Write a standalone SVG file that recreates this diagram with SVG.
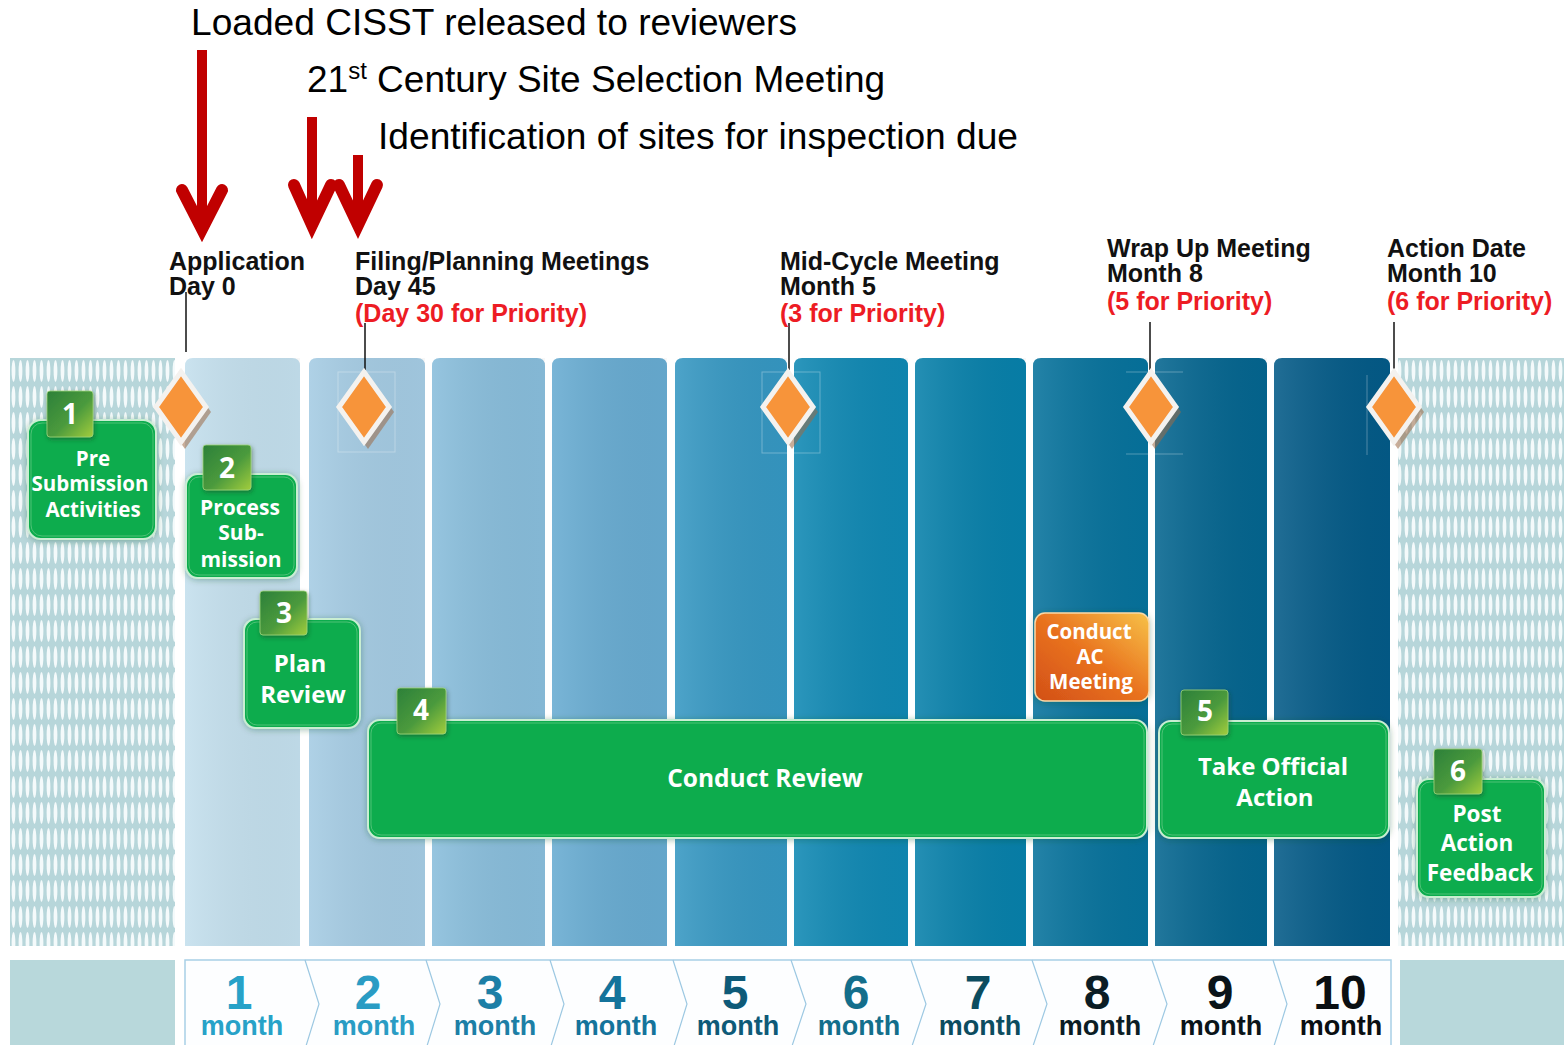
<svg xmlns="http://www.w3.org/2000/svg" width="1564" height="1045" viewBox="0 0 1564 1045">
<defs>
  <style>
    .top { font-family: "Liberation Sans", Arial, sans-serif; font-size: 37px; fill: #000; }
    .lbl { font-family: "Liberation Sans", Arial, sans-serif; font-size: 25px; font-weight: bold; fill: #111; }
    .red { fill: #ed1c24; }
    .gtxt { font-family: "Open Sans", "Noto Sans", sans-serif; font-weight: bold; fill: #fff; text-anchor: middle; }
    .tabn { font-family: "Open Sans", "Noto Sans", sans-serif; font-weight: bold; fill: #fff; text-anchor: middle; font-size: 28px; }
    .gbox { fill: #07ac4d; stroke: #c9eed2; stroke-width: 2; }
    .ginner { fill: none; stroke: #4fc277; stroke-width: 1; }
    .tab { fill: url(#tabGrad); stroke: #9fd47a; stroke-width: 0.8; }
    .lead { stroke: #111; stroke-width: 1.5; fill: none; }
    .arrow { stroke: #c00000; fill: none; }
    .dia { fill: #f7943a; stroke: #f4f2ef; stroke-width: 5; stroke-linejoin: miter; }
    .diash { fill: #9c6a45; opacity: 0.55; }
    .ghost { fill: none; stroke: #ffffff; stroke-opacity: 0.3; stroke-width: 1; }
    .mnum { font-family: "Liberation Sans", Arial, sans-serif; font-weight: bold; font-size: 48px; text-anchor: middle; }
    .mtxt { font-family: "Liberation Sans", Arial, sans-serif; font-weight: bold; font-size: 27px; text-anchor: middle; }
    .chev { stroke: #9cc8e2; stroke-width: 1.2; fill: none; }
  </style>
  <pattern id="hatch" x="10" y="358" width="7" height="26" patternUnits="userSpaceOnUse">
    <rect width="7" height="26" fill="#b7d6da"/>
    <ellipse cx="3.5" cy="13" rx="1.9" ry="11" fill="#f4fafb"/>
  </pattern>
  <linearGradient id="shade" x1="0" y1="0" x2="1" y2="0">
    <stop offset="0" stop-color="#ffffff" stop-opacity="0.12"/>
    <stop offset="1" stop-color="#000000" stop-opacity="0.03"/>
  </linearGradient>
  <linearGradient id="tabGrad" x1="0" y1="0" x2="1" y2="1">
    <stop offset="0" stop-color="#2c8039"/>
    <stop offset="0.55" stop-color="#4b9a3c"/>
    <stop offset="1" stop-color="#a2cd3e"/>
  </linearGradient>
  <linearGradient id="acGrad" x1="0" y1="1" x2="1" y2="0">
    <stop offset="0" stop-color="#d24f17"/>
    <stop offset="0.5" stop-color="#e9731f"/>
    <stop offset="1" stop-color="#f7c248"/>
  </linearGradient>
  <filter id="glow" x="-20%" y="-20%" width="140%" height="140%">
    <feDropShadow dx="0" dy="1" stdDeviation="3" flood-color="#0a4f28" flood-opacity="0.35"/>
  </filter>
  <filter id="tabsh" x="-30%" y="-30%" width="160%" height="160%">
    <feDropShadow dx="1" dy="2" stdDeviation="2" flood-color="#1d3d22" flood-opacity="0.5"/>
  </filter>
</defs>

<rect width="1564" height="1045" fill="#ffffff"/>

<g id="timeline-background">
  <rect x="10" y="358" width="165" height="588" fill="url(#hatch)"/>
  <rect x="1398" y="358" width="166" height="588" fill="url(#hatch)"/>
  <path d="M185,946 V366 Q185,358 193,358 H292 Q300,358 300,366 V946 Z" fill="#c3dfed"/>
  <path d="M309,946 V366 Q309,358 317,358 H417 Q425,358 425,366 V946 Z" fill="#a4cbe3"/>
  <path d="M432,946 V366 Q432,358 440,358 H537 Q545,358 545,366 V946 Z" fill="#88bddb"/>
  <path d="M552,946 V366 Q552,358 560,358 H659 Q667,358 667,366 V946 Z" fill="#67abd1"/>
  <path d="M675,946 V366 Q675,358 683,358 H779 Q787,358 787,366 V946 Z" fill="#3597c2"/>
  <path d="M794,946 V366 Q794,358 802,358 H900 Q908,358 908,366 V946 Z" fill="#0f88b3"/>
  <path d="M915,946 V366 Q915,358 923,358 H1018 Q1026,358 1026,366 V946 Z" fill="#0780aa"/>
  <path d="M1033,946 V366 Q1033,358 1041,358 H1140 Q1148,358 1148,366 V946 Z" fill="#06729c"/>
  <path d="M1155,946 V366 Q1155,358 1163,358 H1259 Q1267,358 1267,366 V946 Z" fill="#04658f"/>
  <path d="M1274,946 V366 Q1274,358 1282,358 H1382 Q1390,358 1390,366 V946 Z" fill="#035a87"/>
  <g fill="url(#shade)">
    <rect x="185" y="358" width="115" height="588"/>
    <rect x="309" y="358" width="116" height="588"/>
    <rect x="432" y="358" width="113" height="588"/>
    <rect x="552" y="358" width="115" height="588"/>
    <rect x="675" y="358" width="112" height="588"/>
    <rect x="794" y="358" width="114" height="588"/>
    <rect x="915" y="358" width="111" height="588"/>
    <rect x="1033" y="358" width="115" height="588"/>
    <rect x="1155" y="358" width="112" height="588"/>
    <rect x="1274" y="358" width="116" height="588"/>
  </g>
</g>

<g id="month-bar">
  <rect x="10" y="960" width="165" height="90" fill="#b8d8db"/>
  <rect x="1400" y="960" width="164" height="90" fill="#b8d8db"/>
  <rect x="185" y="960" width="1206" height="90" fill="#fdfeff" stroke="#a8cfe6" stroke-width="1.5"/>
  <path class="chev" d="M305,960 L319,1004 L306,1046"/>
  <path class="chev" d="M426,960 L440,1004 L427,1046"/>
  <path class="chev" d="M550,960 L564,1004 L551,1046"/>
  <path class="chev" d="M673,960 L687,1004 L674,1046"/>
  <path class="chev" d="M791,960 L806,1004 L792,1046"/>
  <path class="chev" d="M911,960 L926,1004 L912,1046"/>
  <path class="chev" d="M1032,960 L1047,1004 L1033,1046"/>
  <path class="chev" d="M1152,960 L1167,1004 L1153,1046"/>
  <path class="chev" d="M1273,960 L1287,1004 L1274,1046"/>
  <text class="mnum" x="239" y="1009" fill="#27a2c8">1</text>
  <text class="mtxt" x="242" y="1035" fill="#27a2c8">month</text>
  <text class="mnum" x="368" y="1009" fill="#2a9cc4">2</text>
  <text class="mtxt" x="374" y="1035" fill="#2a9cc4">month</text>
  <text class="mnum" x="490" y="1009" fill="#1c7fa6">3</text>
  <text class="mtxt" x="495" y="1035" fill="#1c7fa6">month</text>
  <text class="mnum" x="612" y="1009" fill="#14739b">4</text>
  <text class="mtxt" x="616" y="1035" fill="#14739b">month</text>
  <text class="mnum" x="735" y="1009" fill="#0e5a78">5</text>
  <text class="mtxt" x="738" y="1035" fill="#0e5a78">month</text>
  <text class="mnum" x="856" y="1009" fill="#136e8b">6</text>
  <text class="mtxt" x="859" y="1035" fill="#136e8b">month</text>
  <text class="mnum" x="978" y="1009" fill="#0c4c5f">7</text>
  <text class="mtxt" x="980" y="1035" fill="#0c4c5f">month</text>
  <text class="mnum" x="1097" y="1009" fill="#0b1d25">8</text>
  <text class="mtxt" x="1100" y="1035" fill="#0b1d25">month</text>
  <text class="mnum" x="1220" y="1009" fill="#0a1419">9</text>
  <text class="mtxt" x="1221" y="1035" fill="#0a1419">month</text>
  <text class="mnum" x="1340" y="1009" fill="#0a0f12">10</text>
  <text class="mtxt" x="1341" y="1035" fill="#0a0f12">month</text>
</g>

<g id="connectors">
  <line class="lead" x1="186" y1="292" x2="186" y2="352"/>
  <line class="lead" x1="365" y1="323" x2="365" y2="370"/>
  <line class="lead" x1="789" y1="323" x2="789" y2="370"/>
  <line class="lead" x1="1150" y1="322" x2="1150" y2="370"/>
  <line class="lead" x1="1394" y1="322" x2="1394" y2="370"/>
  <g id="red-arrows">
    <line class="arrow" x1="202" y1="50" x2="202" y2="222" stroke-width="10"/>
    <polyline class="arrow" points="182,190 202,229 222,190" stroke-width="12" stroke-linecap="round" stroke-linejoin="miter"/>
    <line class="arrow" x1="312" y1="117" x2="312" y2="218" stroke-width="10"/>
    <polyline class="arrow" points="294,185 312,225 331,185" stroke-width="12" stroke-linecap="round" stroke-linejoin="miter"/>
    <line class="arrow" x1="358" y1="155" x2="358" y2="218" stroke-width="10"/>
    <polyline class="arrow" points="339,185 358,225 377,185" stroke-width="12" stroke-linecap="round" stroke-linejoin="miter"/>
  </g>
</g>

<g id="annotations">
  <text class="top" x="191" y="35" textLength="606" lengthAdjust="spacingAndGlyphs">Loaded CISST released to reviewers</text>
  <text class="top" x="307" y="92">21<tspan font-size="24" dy="-13">st</tspan><tspan dy="13"> Century Site Selection Meeting</tspan></text>
  <text class="top" x="378" y="149" textLength="640" lengthAdjust="spacingAndGlyphs">Identification of sites for inspection due</text>
</g>

<g id="milestone-application">
  <text class="lbl" x="169" y="270">Application</text>
  <text class="lbl" x="169" y="295">Day 0</text>
  <polygon class="diash" points="185,375 211,412 185,449 159,412"/>
  <polygon class="dia" points="181,372 206,407 181,442 156,407"/>
</g>
<g id="milestone-filing">
  <text class="lbl" x="355" y="270">Filing/Planning Meetings</text>
  <text class="lbl" x="355" y="295">Day 45</text>
  <text class="lbl red" x="355" y="322">(Day 30 for Priority)</text>
  <rect class="ghost" x="338" y="372" width="57" height="80"/>
  <polygon class="diash" points="368,375 394,412 368,449 342,412"/>
  <polygon class="dia" points="364,372 389,407 364,442 339,407"/>
</g>
<g id="milestone-midcycle">
  <text class="lbl" x="780" y="270">Mid-Cycle Meeting</text>
  <text class="lbl" x="780" y="295">Month 5</text>
  <text class="lbl red" x="780" y="322">(3 for Priority)</text>
  <rect class="ghost" x="762" y="372" width="58" height="81"/>
  <polygon class="diash" points="792,375 818,412 792,449 766,412"/>
  <polygon class="dia" points="788,372 813,407 788,442 763,407"/>
</g>
<g id="milestone-wrapup">
  <text class="lbl" x="1107" y="257">Wrap Up Meeting</text>
  <text class="lbl" x="1107" y="282">Month 8</text>
  <text class="lbl red" x="1107" y="310">(5 for Priority)</text>
  <line class="ghost" x1="1126" y1="372" x2="1183" y2="372"/>
  <line class="ghost" x1="1126" y1="454" x2="1183" y2="454"/>
  <polygon class="diash" points="1155,375 1181,412 1155,449 1129,412"/>
  <polygon class="dia" points="1151,372 1176,407 1151,442 1126,407"/>
</g>
<g id="milestone-action">
  <text class="lbl" x="1387" y="257">Action Date</text>
  <text class="lbl" x="1387" y="282">Month 10</text>
  <text class="lbl red" x="1387" y="310">(6 for Priority)</text>
  <line class="ghost" x1="1367" y1="375" x2="1367" y2="455"/>
  <polygon class="diash" points="1398,375 1424,412 1398,449 1372,412"/>
  <polygon class="dia" points="1394,372 1419,407 1394,442 1369,407"/>
</g>

<g id="node-1">
  <rect class="gbox" x="28" y="420" width="128" height="119" rx="13" filter="url(#glow)"/>
  <rect class="ginner" x="31" y="423" width="122" height="113" rx="11"/>
  <rect class="tab" x="47" y="391" width="46" height="46" rx="3" filter="url(#tabsh)"/>
  <text class="tabn" x="70" y="424">1</text>
  <text class="gtxt" x="93" y="466" font-size="20.5">Pre</text>
  <text class="gtxt" x="90" y="491" font-size="20.5">Submission</text>
  <text class="gtxt" x="93" y="517" font-size="20.5">Activities</text>
</g>
<g id="node-2">
  <rect class="gbox" x="186" y="474" width="111" height="104" rx="12" filter="url(#glow)"/>
  <rect class="ginner" x="189" y="477" width="105" height="98" rx="10"/>
  <rect class="tab" x="203" y="445" width="48" height="45" rx="3" filter="url(#tabsh)"/>
  <text class="tabn" x="227" y="478">2</text>
  <text class="gtxt" x="240" y="515" font-size="21">Process</text>
  <text class="gtxt" x="241" y="540" font-size="21">Sub-</text>
  <text class="gtxt" x="241" y="567" font-size="21">mission</text>
</g>
<g id="node-3">
  <rect class="gbox" x="244" y="619" width="116" height="109" rx="12" filter="url(#glow)"/>
  <rect class="ginner" x="247" y="622" width="110" height="103" rx="10"/>
  <rect class="tab" x="260" y="591" width="47" height="44" rx="3" filter="url(#tabsh)"/>
  <text class="tabn" x="284" y="623">3</text>
  <text class="gtxt" x="300" y="672" font-size="24">Plan</text>
  <text class="gtxt" x="303" y="703" font-size="24">Review</text>
</g>
<g id="node-4">
  <rect class="gbox" x="368" y="720" width="779" height="118" rx="12" filter="url(#glow)"/>
  <rect class="ginner" x="371" y="723" width="773" height="112" rx="10"/>
  <rect class="tab" x="397" y="688" width="49" height="46" rx="3" filter="url(#tabsh)"/>
  <text class="tabn" x="421" y="720">4</text>
  <text class="gtxt" x="765" y="787" font-size="24.5">Conduct Review</text>
</g>
<g id="node-ac">
  <rect x="1035" y="613" width="114" height="88" rx="10" fill="url(#acGrad)" stroke="#f9d9a6" stroke-width="1.5" filter="url(#glow)"/>
  <text class="gtxt" x="1089" y="639" font-size="20.5">Conduct</text>
  <text class="gtxt" x="1090" y="664" font-size="20.5">AC</text>
  <text class="gtxt" x="1091" y="689" font-size="20.5">Meeting</text>
</g>
<g id="node-5">
  <rect class="gbox" x="1159" y="721" width="230" height="117" rx="12" filter="url(#glow)"/>
  <rect class="ginner" x="1162" y="724" width="224" height="111" rx="10"/>
  <rect class="tab" x="1181" y="690" width="47" height="45" rx="3" filter="url(#tabsh)"/>
  <text class="tabn" x="1205" y="721">5</text>
  <text class="gtxt" x="1273" y="775" font-size="24">Take Official</text>
  <text class="gtxt" x="1275" y="806" font-size="24">Action</text>
</g>
<g id="node-6">
  <rect class="gbox" x="1417" y="779" width="128" height="118" rx="12" filter="url(#glow)"/>
  <rect class="ginner" x="1420" y="782" width="122" height="112" rx="10"/>
  <rect class="tab" x="1434" y="749" width="48" height="45" rx="3" filter="url(#tabsh)"/>
  <text class="tabn" x="1458" y="781">6</text>
  <text class="gtxt" x="1477" y="822" font-size="22.5">Post</text>
  <text class="gtxt" x="1477" y="851" font-size="22.5">Action</text>
  <text class="gtxt" x="1480" y="881" font-size="22.5">Feedback</text>
</g>
</svg>
